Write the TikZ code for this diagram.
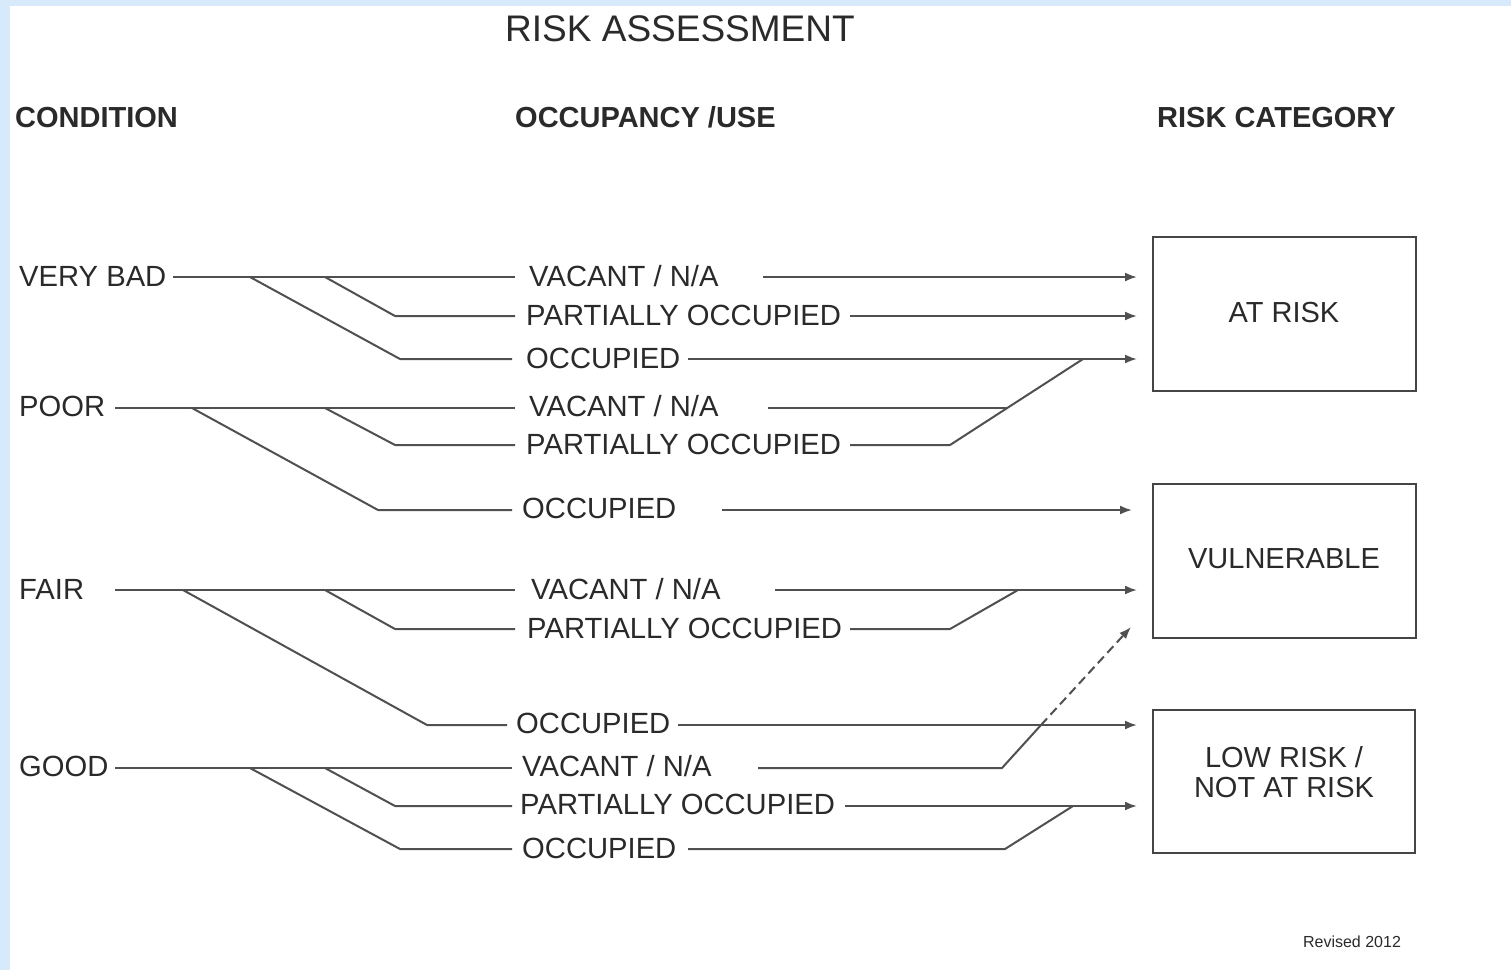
\documentclass[tikz,border=0pt]{standalone}
\usepackage{fontspec}
\setmainfont{Liberation Sans}
\usetikzlibrary{arrows.meta}
\definecolor{bgblue}{HTML}{D6EAFB}
\definecolor{txt}{HTML}{2A2A2A}
\definecolor{lnc}{HTML}{505050}
\definecolor{boxc}{HTML}{454545}
\tikzset{
  lbl/.style={font=\fontsize{29.2}{31}\selectfont, text=txt, inner sep=0pt, anchor=base west},
  hdr/.style={font=\bfseries\fontsize{29}{31}\selectfont, text=txt, inner sep=0pt, anchor=base west},
  ttl/.style={font=\fontsize{37}{40}\selectfont, text=txt, inner sep=0pt, anchor=base},
  ln/.style={draw=lnc, line width=2pt, line join=round},
  arr/.style={ln, -{Latex[length=12pt,width=9pt]}},
  dsh/.style={arr, dash pattern=on 9pt off 5pt},
  riskbox/.style={draw=boxc, line width=2.2pt, inner sep=0pt},
  boxtxt/.style={font=\fontsize{29}{31}\selectfont, text=txt, inner sep=0pt, align=center}
}
\begin{document}
\begin{tikzpicture}[x=1pt,y=-1pt]
\useasboundingbox (0,0) rectangle (1511,970);
\fill[bgblue] (0,0) rectangle (1511,970);
\fill[white] (10,6) rectangle (1511,970);

% title and headers
\node[ttl] (title) at (680,41) {RISK ASSESSMENT};
\node[hdr] (hcond) at (15,127) {CONDITION};
\node[hdr] (hocc) at (515,127) {OCCUPANCY /USE};
\node[hdr] (hrisk) at (1157,127) {RISK CATEGORY};

% condition labels
\node[lbl] (vbad) at (19,286) {VERY BAD};
\node[lbl] (poor) at (19,416) {POOR};
\node[lbl] (fair) at (19,599) {FAIR};
\node[lbl] (good) at (19,776) {GOOD};

% occupancy labels
\node[lbl] (v1) at (529,286) {VACANT / N/A};
\node[lbl] (p1) at (526,325) {PARTIALLY OCCUPIED};
\node[lbl] (o1) at (526,368) {OCCUPIED};
\node[lbl] (v2) at (529,416) {VACANT / N/A};
\node[lbl] (p2) at (526,454) {PARTIALLY OCCUPIED};
\node[lbl] (o2) at (522,518) {OCCUPIED};
\node[lbl] (v3) at (531,599) {VACANT / N/A};
\node[lbl] (p3) at (527,638) {PARTIALLY OCCUPIED};
\node[lbl] (o3) at (516,733) {OCCUPIED};
\node[lbl] (v4) at (522,776) {VACANT / N/A};
\node[lbl] (p4) at (520,814) {PARTIALLY OCCUPIED};
\node[lbl] (o4) at (522,858) {OCCUPIED};

% risk boxes
\node[riskbox, minimum width=263pt, minimum height=154pt] (atrisk) at (1284.5,314) {};
\node[boxtxt] (tatrisk) at (1284,313) {AT RISK};
\node[riskbox, minimum width=263pt, minimum height=154pt] (vuln) at (1284.5,561) {};
\node[boxtxt] (tvuln) at (1284,559) {VULNERABLE};
\node[riskbox, minimum width=262pt, minimum height=143pt] (low) at (1284,781.5) {};
\node[boxtxt] (tlow1) at (1284,757) {LOW RISK /};
\node[boxtxt] (tlow2) at (1284,787) {NOT AT RISK};

\node[font=\fontsize{16}{17}\selectfont, text=txt, inner sep=0pt, anchor=base] (rev) at (1352,947) {Revised 2012};

% ---------- coordinates: left side ----------
% very bad
\coordinate (vbS) at (173,277);
\coordinate (vbE) at (515,277);
\coordinate (vbA) at (250,277); \coordinate (vbA1) at (400,359); \coordinate (vbA2) at (512,359);
\coordinate (vbB) at (325,277); \coordinate (vbB1) at (395,316); \coordinate (vbB2) at (515,316);
% poor
\coordinate (poS) at (115,408);
\coordinate (poE) at (515,408);
\coordinate (poA) at (192,408); \coordinate (poA1) at (378,510); \coordinate (poA2) at (512,510);
\coordinate (poB) at (325,408); \coordinate (poB1) at (395,445); \coordinate (poB2) at (515,445);
% fair
\coordinate (faS) at (115,590);
\coordinate (faE) at (515,590);
\coordinate (faA) at (183,590); \coordinate (faA1) at (427,725); \coordinate (faA2) at (507,725);
\coordinate (faB) at (325,590); \coordinate (faB1) at (395,629); \coordinate (faB2) at (515,629);
% good
\coordinate (goS) at (115,768);
\coordinate (goE) at (512,768);
\coordinate (goA) at (250,768); \coordinate (goA1) at (400,849); \coordinate (goA2) at (512,849);
\coordinate (goB) at (325,768); \coordinate (goB1) at (395,806); \coordinate (goB2) at (512,806);

\draw[ln] (vbS) -- (vbE);
\draw[ln] (vbA) -- (vbA1) -- (vbA2);
\draw[ln] (vbB) -- (vbB1) -- (vbB2);
\draw[ln] (poS) -- (poE);
\draw[ln] (poA) -- (poA1) -- (poA2);
\draw[ln] (poB) -- (poB1) -- (poB2);
\draw[ln] (faS) -- (faE);
\draw[ln] (faA) -- (faA1) -- (faA2);
\draw[ln] (faB) -- (faB1) -- (faB2);
\draw[ln] (goS) -- (goE);
\draw[ln] (goA) -- (goA1) -- (goA2);
\draw[ln] (goB) -- (goB1) -- (goB2);

% ---------- coordinates: right side ----------
\coordinate (r1s) at (763,277);  \coordinate (r1t) at (1137,277);
\coordinate (r2s) at (850,316);  \coordinate (r2t) at (1137,316);
\coordinate (r3s) at (688,359);  \coordinate (r3t) at (1137,359);
\coordinate (r4s) at (768,408);  \coordinate (r4j) at (1007,408);
\coordinate (r5s) at (850,445);  \coordinate (r5b) at (950,445); \coordinate (r5j) at (1083,359);
\coordinate (r6s) at (722,510);  \coordinate (r6t) at (1132,510);
\coordinate (r7s) at (775,590);  \coordinate (r7t) at (1137,590);
\coordinate (r8s) at (850,629);  \coordinate (r8b) at (950,629); \coordinate (r8j) at (1018,590);
\coordinate (r9s) at (678,725);  \coordinate (r9t) at (1137,725);
\coordinate (r10s) at (758,768); \coordinate (r10b) at (1002,768); \coordinate (r10x) at (1041,725); \coordinate (r10t) at (1131,627);
\coordinate (r11s) at (845,806); \coordinate (r11t) at (1137,806);
\coordinate (r12s) at (688,849); \coordinate (r12b) at (1005,849); \coordinate (r12j) at (1073,806);

\draw[arr] (r1s) -- (r1t);
\draw[arr] (r2s) -- (r2t);
\draw[arr] (r3s) -- (r3t);
\draw[ln] (r4s) -- (r4j);
\draw[ln] (r5s) -- (r5b) -- (r5j);
\draw[arr] (r6s) -- (r6t);
\draw[arr] (r7s) -- (r7t);
\draw[ln] (r8s) -- (r8b) -- (r8j);
\draw[arr] (r9s) -- (r9t);
\draw[ln] (r10s) -- (r10b) -- (r10x);
\draw[dsh] (r10x) -- (r10t);
\draw[arr] (r11s) -- (r11t);
\draw[ln] (r12s) -- (r12b) -- (r12j);
\end{tikzpicture}
\end{document}
